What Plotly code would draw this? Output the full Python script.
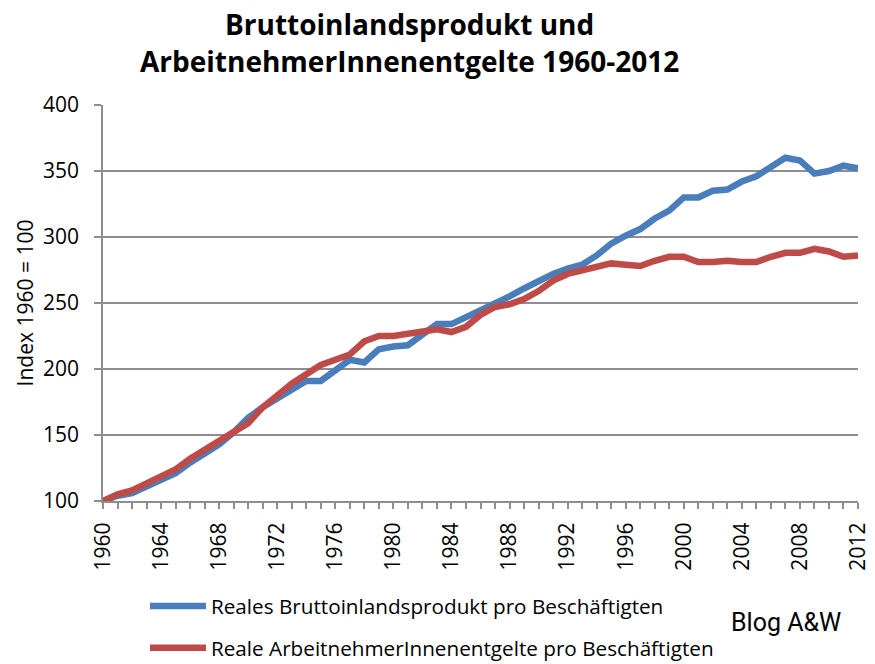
import plotly.graph_objects as go

years = list(range(1960, 2013))

bip = [100, 104, 106, 111, 117, 121, 129, 136, 143, 152,
       163, 171, 178, 185, 191, 191, 199, 207, 205, 215,
       217, 218, 226, 234, 234, 239, 244, 249, 255, 261,
       267, 272, 276, 279, 286, 295, 301, 306, 314, 320,
       330, 330, 335, 336, 342, 346, 353, 360, 358, 348,
       350, 354, 352]

entgelte = [100, 105, 108, 113, 119, 124, 132, 139, 145, 152,
            159, 171, 180, 189, 196, 203, 207, 211, 221, 225,
            225, 227, 228, 230, 228, 232, 241, 247, 249, 253,
            259, 267, 272, 275, 277, 280, 279, 278, 282, 285,
            285, 281, 281, 282, 281, 281, 285, 288, 288, 291,
            289, 285, 286]

name_bip = "Reales Bruttoinlandsprodukt pro Beschäftigten"
name_ent = "Reale ArbeitnehmerInnenentgelte pro Beschäftigten"
title_text = "<b>Bruttoinlandsprodukt und<br>ArbeitnehmerInnenentgelte 1960-2012</b>"
y_title = "Index 1960 = 100"
credit = "Blog A&W"

FONT = "Open Sans"
GRID = "#8e8e8e"
NBSP = "\u00a0"

fig = go.Figure()
fig.add_trace(go.Scatter(x=years, y=bip, mode="lines", name=name_bip, legend="legend",
                         line=dict(color="#4a7ebb", width=6.5)))
fig.add_trace(go.Scatter(x=years, y=entgelte, mode="lines", name=name_ent, legend="legend2",
                         line=dict(color="#be4b48", width=6.5)))

leg_common = dict(xanchor="left", yanchor="middle",
                  font=dict(family=FONT, size=20.7, color="black"),
                  itemwidth=56, bgcolor="rgba(0,0,0,0)")

fig.update_layout(
    width=875, height=664,
    margin=dict(l=95, r=25, t=97, b=171, autoexpand=False),
    paper_bgcolor="white", plot_bgcolor="white",
    font=dict(family=FONT, color="black", size=21),
    title=dict(text=title_text, x=0.459, xanchor="center", xref="container",
               yref="container", y=0.959, yanchor="middle",
               font=dict(family=FONT, size=28, color="black")),
    showlegend=True,
    legend=dict(x=0.0556, y=-0.265, **leg_common),
    legend2=dict(x=0.0556, y=-0.371, **leg_common),
    annotations=[dict(text=credit, xref="paper", yref="paper",
                      x=0.980, y=-0.3056, xanchor="right", yanchor="middle",
                      showarrow=False,
                      font=dict(family="Roboto", size=25, color="black"))],
)

fig.update_xaxes(range=[1960, 2012], tick0=1960, dtick=4, tickangle=-90,
                 showgrid=False, showline=True, linecolor=GRID, linewidth=1.5,
                 ticks="outside", ticklen=6, tickcolor=GRID, tickwidth=1.5,
                 ticksuffix=NBSP,
                 minor=dict(dtick=1, ticks="outside", ticklen=6, tickcolor=GRID, tickwidth=1.5),
                 tickfont=dict(size=21), zeroline=False)
fig.update_yaxes(range=[100, 400], dtick=50, showgrid=True, gridcolor=GRID, gridwidth=1.5,
                 showline=True, linecolor=GRID, linewidth=1.5,
                 ticks="outside", ticklen=7, tickcolor=GRID, tickwidth=1.5,
                 ticksuffix=NBSP * 2,
                 title=dict(text=y_title, font=dict(size=21), standoff=4),
                 tickfont=dict(size=21), zeroline=False)

fig.write_html("out.html")
